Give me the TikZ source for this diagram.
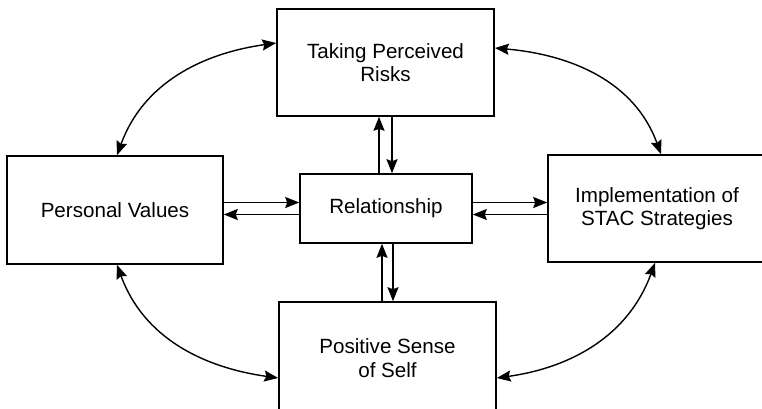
\documentclass[tikz,border=0pt]{standalone}
\usepackage{fontspec}
\setmainfont{Liberation Sans}
\usetikzlibrary{arrows.meta}
\tikzset{factor/.style={rectangle, draw, line width=0.8pt, align=center, inner sep=0pt, font=\fontsize{10.3}{11.8}\selectfont}}
\tikzset{link/.style={line width=0.7pt, -{Stealth[length=7pt,width=5.5pt,inset=1pt]}}}
\tikzset{bilink/.style={line width=0.7pt, {Stealth[length=7pt,width=5.5pt,inset=1pt]}-{Stealth[length=7pt,width=5.5pt,inset=1pt]}}}

\begin{document}
\begin{tikzpicture}[x=0.5pt,y=-0.5pt]
  \useasboundingbox (0,0) rectangle (762,408);
  \foreach \x/\y/\w/\h/\lab/\txt in {
    385.5/62.5/108.5pt/53.5pt/risks/{Taking Perceived\\Risks},
    115/210/108pt/54pt/values/{Personal Values},
    386/208.5/86pt/34.5pt/rel/{Relationship},
    657/208.5/109pt/53.5pt/stac/{Implementation of\\STAC Strategies},
    387.5/358/108.5pt/56pt/self/{Positive Sense\\of Self}%
  } {
    \node[factor, minimum width=\w, minimum height=\h] (\lab) at (\x, \y) {\txt};
  }
  % to and from the relationship
  \draw[link] ([yshift=3pt]rel.west -| values.east) -- ([yshift=3pt]rel.west);
  \draw[link] ([yshift=-3pt]rel.west) -- ([yshift=-3pt]rel.west -| values.east);
  \draw[link] ([yshift=3pt]rel.east) -- ([yshift=3pt]rel.east -| stac.west);
  \draw[link] ([yshift=-3pt]rel.east -| stac.west) -- ([yshift=-3pt]rel.east);
  \draw[link] ([xshift=-3.5pt]rel.north) -- ([xshift=-3.5pt]rel.north |- risks.south);
  \draw[link] ([xshift=3pt]rel.north |- risks.south) -- ([xshift=3pt]rel.north);
  \draw[link] ([xshift=-2pt]rel.south |- self.north) -- ([xshift=-2pt]rel.south);
  \draw[link] ([xshift=3.5pt]rel.south) -- ([xshift=3.5pt]rel.south |- self.north);
  % outer ring
  \draw[bilink] ([yshift=9.75pt]risks.west) to[out=188, in=70] ([xshift=1pt]values.north);
  \draw[bilink] ([yshift=7.25pt]risks.east) to[out=-5, in=110] ([xshift=2pt]stac.north);
  \draw[bilink] ([xshift=1pt]values.south) to[out=-70, in=172] ([yshift=-10pt]self.west);
  \draw[bilink] ([xshift=-1pt]stac.south) to[out=-110, in=8] ([yshift=-10pt]self.east);
\end{tikzpicture}
\end{document}
